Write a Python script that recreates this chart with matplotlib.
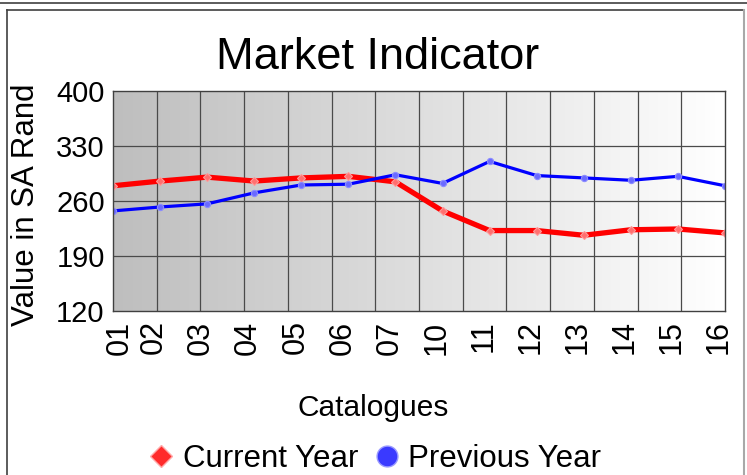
import numpy as np
import matplotlib
matplotlib.use('Agg')
import matplotlib.pyplot as plt
from matplotlib.colors import LinearSegmentedColormap
from matplotlib.lines import Line2D
from matplotlib.transforms import ScaledTranslation

plt.rcParams['font.family'] = ['Liberation Sans', 'DejaVu Sans']

# datos
catalogues = ['01', '02', '03', '04', '05', '06', '07', '10', '11', '12', '13', '14', '15', '16']
current_year = [279, 285, 290, 285, 289, 291, 284, 247, 222, 222, 216, 223, 224, 219]
previous_year = [247, 252, 256, 270, 280, 281, 293, 282, 310, 292, 289, 286, 291, 279]
y_ticks = [120, 190, 260, 330, 400]

W, H = 747, 475
fig = plt.figure(figsize=(W/100, H/100), dpi=100)
ax = fig.add_axes([113/W, 1-310.7/H, 612/W, 220/H])
x = np.arange(len(catalogues))

# fondo con degradado gris -> blanco
grad = np.linspace(0, 1, 256).reshape(1, -1)
cmap = LinearSegmentedColormap.from_list('bg', ['#bebebe', '#ffffff'])
ax.imshow(grad, cmap=cmap, aspect='auto', extent=[0, len(x)-1, y_ticks[0], y_ticks[-1]], zorder=0)

# grilla: 14 columnas, lineas horizontales en los ticks
for k in range(1, len(x)):
    ax.axvline(k*(len(x)-1)/len(x), color='#4a4a4a', lw=0.9, zorder=1)
for v in y_ticks[1:-1]:
    ax.axhline(v, color='#4a4a4a', lw=0.9, zorder=1)

ax.plot(x, current_year, color='#ff0000', lw=3.8, marker='D', ms=4,
        mfc='#ff7070', mec='#ff9a9a', mew=0.8, zorder=3, solid_joinstyle='round')
ax.plot(x, previous_year, color='#0000ff', lw=2.3, marker='o', ms=4.5,
        mfc='#6a6aff', mec='#8c8cff', mew=0.8, zorder=4, solid_joinstyle='round')

ax.set_xlim(0, len(x)-1)
ax.set_ylim(y_ticks[0], y_ticks[-1])
ax.set_yticks(y_ticks)
ax.set_yticklabels([str(v) for v in y_ticks], fontsize=21)
ax.set_xticks(x)
ax.set_xticklabels(catalogues, rotation=90, fontsize=22)
ax.tick_params(axis='both', length=0)
ax.tick_params(axis='y', pad=6)
ax.tick_params(axis='x', pad=7)

for i, lab in enumerate(ax.get_xticklabels()):
    dx = 7 if i == 0 else -6
    lab.set_transform(lab.get_transform() + ScaledTranslation(dx/100, 0, fig.dpi_scale_trans))

for s in ax.spines.values():
    s.set_color('#404040')
    s.set_linewidth(1)
    s.set_zorder(5)

ax.set_ylabel('Value in SA Rand', fontsize=22.5)
ax.yaxis.set_label_coords(-0.118, 0.48)
ax.set_xlabel('Catalogues', fontsize=21.5)
ax.xaxis.set_label_coords((373.5-113)/612, (310.7-394)/220)

fig.text(378/W, 1-69/H, 'Market Indicator', fontsize=32.5, ha='center', va='baseline')

handles = [Line2D([], [], ls='none', marker='D', ms=11, mfc='#ff2a2a', mec='#ffaaaa', mew=1),
           Line2D([], [], ls='none', marker='o', ms=15, mfc='#3a3aff', mec='#9a9aff', mew=1)]
fig.legend(handles, ['Current Year', 'Previous Year'], loc='center',
           bbox_to_anchor=(0.5, 1-459/H), ncol=2, frameon=False, fontsize=22.5,
           handletextpad=0.2, columnspacing=0.4, handlelength=1.0, borderpad=0)

# marco exterior
fig.add_artist(Line2D([0, 1], [1-3/H]*2, color='#404040', lw=1.2, transform=fig.transFigure))
fig.add_artist(Line2D([7/W, 744/W], [1-9.5/H]*2, color='#404040', lw=1.2, transform=fig.transFigure))
fig.add_artist(Line2D([7/W, 7/W], [0, 1-9.5/H], color='#404040', lw=1.2, transform=fig.transFigure))
fig.add_artist(Line2D([744/W, 744/W], [0, 1-9.5/H], color='#a8a8a8', lw=1.5, transform=fig.transFigure))

fig.savefig('out.png', dpi=100)
